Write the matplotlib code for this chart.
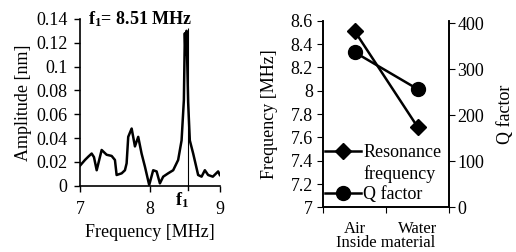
import numpy as np
import matplotlib
matplotlib.use("Agg")
import matplotlib.pyplot as plt
from matplotlib.lines import Line2D

plt.rcParams['font.family'] = ['Liberation Serif', 'DejaVu Serif']
plt.rcParams['mathtext.fontset'] = 'custom'
plt.rcParams['mathtext.rm'] = 'Liberation Serif'
plt.rcParams['mathtext.bf'] = 'Liberation Serif:bold'
plt.rcParams['mathtext.it'] = 'Liberation Serif:italic'
plt.rcParams['font.size'] = 13

# amplitude spectrum
freq = [7.0, 7.071, 7.119, 7.167, 7.20, 7.239, 7.31, 7.381, 7.453, 7.50, 7.524,
        7.596, 7.643, 7.667, 7.69, 7.739, 7.786, 7.833, 7.881, 7.929, 7.99,
        8.047, 8.096, 8.143, 8.19, 8.261, 8.333, 8.404, 8.453, 8.486, 8.50,
        8.51, 8.524, 8.547, 8.571, 8.619, 8.69, 8.739, 8.786, 8.833, 8.90,
        8.976, 9.0]
amp = [0.0168, 0.0216, 0.0244, 0.027, 0.024, 0.013, 0.030, 0.026, 0.025, 0.0216, 0.009,
       0.0104, 0.013, 0.0188, 0.041, 0.048, 0.033, 0.041, 0.027, 0.016, 0.0006,
       0.013, 0.012, 0.002, 0.0076, 0.0104, 0.013, 0.0216, 0.038, 0.072, 0.128,
       0.110, 0.130, 0.070, 0.038, 0.027, 0.009, 0.0076, 0.013, 0.009, 0.0076,
       0.012, 0.009]
f1 = 8.54

materials = ['Air', 'Water']
res_freq = [8.51, 7.69]
q_factor = [337, 257]

fig = plt.figure(figsize=(5.16, 2.52), dpi=100)

# ---- left: spectrum
ax1 = fig.add_axes([0.155, 0.263, 0.271, 0.662])
ax1.plot(freq, amp, color='black', lw=1.8)
ax1.vlines(f1, 0, 0.132, color='black', lw=0.8)
ax1.set_xlim(7, 9)
ax1.set_ylim(0, 0.14)
ax1.set_xticks([7, 8, 9])
ax1.set_yticks([0, 0.02, 0.04, 0.06, 0.08, 0.1, 0.12, 0.14])
ax1.set_yticklabels(['0', '0.02', '0.04', '0.06', '0.08', '0.1', '0.12', '0.14'])
ax1.spines['top'].set_visible(False)
ax1.spines['right'].set_visible(False)
ax1.tick_params(direction='out', length=4, width=1)
ax1.tick_params(axis='x', pad=7)
ax1.tick_params(axis='y', pad=5)
ax1.spines['left'].set_linewidth(1.2)
ax1.spines['bottom'].set_linewidth(1.2)
ax1.set_xlabel('Frequency [MHz]', labelpad=4)
ax1.set_ylabel('Amplitude [nm]', labelpad=3)
ax1.text(7.12, 0.14, r'$\mathbf{f_1}$= 8.51 MHz', fontweight='bold',
         va='center', ha='left')
ax1.text(f1 - 0.08, -0.004, r'$\mathbf{f_1}$', ha='center', va='top')
ax1.plot([f1, f1], [0, -0.004], color='black', lw=1, clip_on=False)

# ---- right: frequency and Q factor
ax2 = fig.add_axes([0.6266, 0.177, 0.2434, 0.741])
x = np.arange(len(materials))
l1, = ax2.plot(x, res_freq, color='black', lw=1.8, marker='D', markersize=8)
ax2.set_xlim(-0.5, 1.5)
ax2.set_ylim(7, 8.6)
ax2.set_yticks([7, 7.2, 7.4, 7.6, 7.8, 8, 8.2, 8.4, 8.6])
ax2.set_yticklabels(['7', '7.2', '7.4', '7.6', '7.8', '8', '8.2', '8.4', '8.6'])
ax2.set_xticks([-0.5, 0.5, 1.5])
ax2.set_xticklabels([])
ax2.set_xticks(x, minor=True)
ax2.set_xticklabels(materials, minor=True, fontsize=12)
ax2.tick_params(axis='x', which='minor', length=0, pad=10)
ax2.tick_params(axis='x', which='major', direction='out', length=4)
ax2.tick_params(axis='y', direction='out', length=4)
ax2.spines['top'].set_visible(False)
ax2.set_ylabel('Frequency [MHz]', labelpad=9)
ax2.set_xlabel('Inside material', labelpad=-1.5, fontsize=12)

ax3 = ax2.twinx()
l2, = ax3.plot(x, q_factor, color='black', lw=1.8, marker='o', markersize=10)
ax3.set_ylim(0, 405.6)
ax3.set_yticks([0, 100, 200, 300, 400])
ax3.spines['top'].set_visible(False)
ax3.tick_params(axis='y', direction='out', length=4, pad=2)
ax3.set_ylabel('Q factor', labelpad=9)
for sp in ['left', 'right', 'bottom']:
    ax2.spines[sp].set_linewidth(1.2)
    ax3.spines[sp].set_linewidth(1.2)

blank = Line2D([], [], linestyle='none')
ax2.legend([l1, blank, l2], ['Resonance', 'frequency', 'Q factor'],
           loc='lower left', bbox_to_anchor=(-0.085, -0.045), frameon=False,
           handlelength=2.0, handletextpad=0.1, borderpad=0.2,
           labelspacing=0.2)

plt.savefig('out.png', dpi=100)
